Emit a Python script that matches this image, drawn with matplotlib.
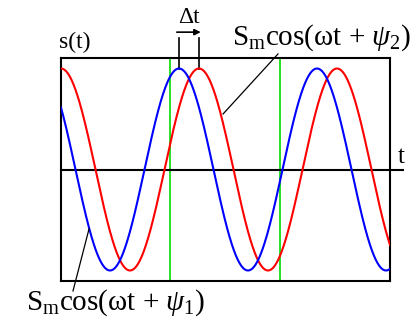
import numpy as np
import matplotlib.pyplot as plt

plt.rcParams['mathtext.fontset'] = 'custom'
plt.rcParams['mathtext.rm'] = 'Liberation Serif'
plt.rcParams['mathtext.it'] = 'Liberation Serif:italic'

# phase in radians (omega * t) across the plotting window
wt_max = 14.98
psi_2 = 0.0          # red signal
psi_1 = 0.91         # blue signal leads by delta t
green_marks = [4.96, 9.97]
amp = 1.0

wt = np.linspace(0, wt_max, 800)
s1 = amp * np.cos(wt + psi_1)
s2 = amp * np.cos(wt + psi_2)

fig = plt.figure(figsize=(4.19, 3.21), dpi=100)
ax = fig.add_axes([61 / 419, 40 / 321, 329 / 419, 223 / 321])
ax.set_xlim(0, wt_max)
ax.set_ylim(-1.104, 1.104)
ax.set_xticks([])
ax.set_yticks([])
for sp in ax.spines.values():
    sp.set_linewidth(1.5)
    sp.set_color('black')

for g in green_marks:
    ax.axvline(g, color='#00dd00', lw=1.2, zorder=1)

ax.plot(wt, s2, color='red', lw=1.5, zorder=3)
ax.plot(wt, s1, color='blue', lw=1.5, zorder=3)

# time axis, running past the right edge of the frame
ax.plot([0, wt_max * 1.04], [0, 0], color='black', lw=1.5, clip_on=False, zorder=2)

serif = ['Liberation Serif', 'DejaVu Serif']
ax.text(wt_max * 1.035, 0.06, 't', fontsize=18, family=serif, ha='center', va='baseline')
ax.text(-0.09, 1.20, 's(t)', fontsize=17, family=serif, ha='left', va='baseline',
        clip_on=False)

# delta t markers at the two peaks
p1 = 2 * np.pi - psi_1
p2 = 2 * np.pi - psi_2
top = 1.30
for p in (p1, p2):
    ax.plot([p, p], [amp, top], color='black', lw=1.2, clip_on=False)
ax.annotate('', xy=(p2 + 0.08, 1.36), xytext=(p1 - 0.1, 1.36), annotation_clip=False,
            arrowprops=dict(arrowstyle='-|>', color='black', lw=1.2, mutation_scale=9,
                            shrinkA=0, shrinkB=0))
ax.text((p1 + p2) / 2, 1.45, 'Δt', fontsize=17, family=serif,
        ha='center', va='baseline', clip_on=False)

# labels with leader lines
ax.text(7.79, 1.233, r'S$_\mathrm{m}$cos(ωt + $\mathit{ψ}_2$)', fontsize=21, family=serif,
        ha='left', va='baseline', clip_on=False)
ax.plot([9.88, 7.38], [1.144, 0.55], color='black', lw=0.9, clip_on=False, zorder=4)

ax.text(-1.59, -1.39, r'S$_\mathrm{m}$cos(ωt + $\mathit{ψ}_1$)', fontsize=21, family=serif,
        ha='left', va='baseline', clip_on=False)
ax.plot([1.275, 0.546], [-0.589, -1.203], color='black', lw=0.9, clip_on=False, zorder=4)

fig.savefig('out.png', dpi=100)
